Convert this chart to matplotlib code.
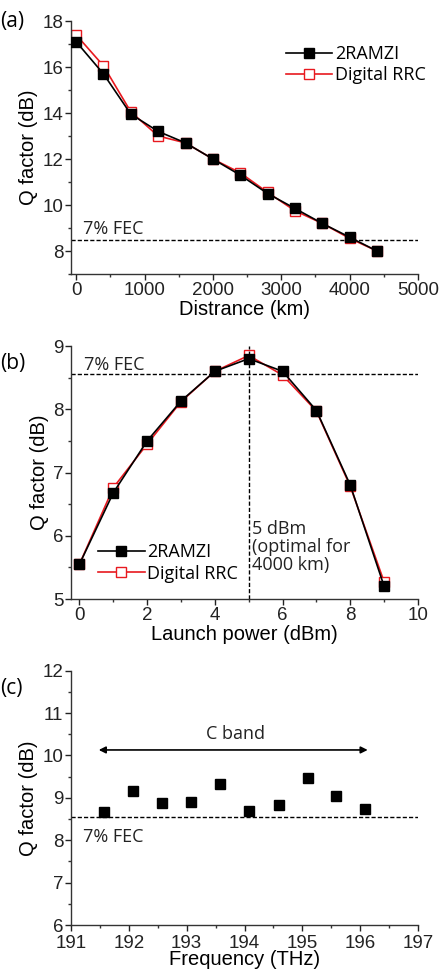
import matplotlib
matplotlib.use("Agg")
import matplotlib.pyplot as plt
from matplotlib.ticker import MultipleLocator

plt.rcParams['font.family'] = ['Liberation Sans', 'DejaVu Sans']

# Panel (a)
dist_km = [0, 400, 800, 1200, 1600, 2000, 2400, 2800, 3200, 3600, 4000, 4400]
q_a_2ramzi = [17.1, 15.7, 13.95, 13.2, 12.7, 12.0, 11.3, 10.5, 9.85, 9.2, 8.6, 8.0]
q_a_rrc = [17.4, 16.05, 14.05, 13.0, 12.7, 12.0, 11.4, 10.55, 9.75, 9.2, 8.55, 8.0]
fec_a = 8.48

# Panel (b)
launch_dbm = [0, 1, 2, 3, 4, 5, 6, 7, 8, 9]
q_b_2ramzi = [5.55, 6.68, 7.5, 8.13, 8.6, 8.8, 8.6, 7.98, 6.8, 5.2]
q_b_rrc = [5.55, 6.76, 7.45, 8.12, 8.6, 8.85, 8.54, 7.97, 6.78, 5.27]
fec_b = 8.55
optimal_dbm = 5

# Panel (c)
freq_thz = [191.57, 192.08, 192.57, 193.08, 193.57, 194.08, 194.59, 195.09, 195.58, 196.08]
q_c = [8.67, 9.15, 8.87, 8.91, 9.32, 8.69, 8.83, 9.48, 9.04, 8.74]
fec_c = 8.55
cband = (191.48, 196.13)

W, H = 443, 974
fig = plt.figure(figsize=(W / 100, H / 100), dpi=100)

ann_font = ['Open Sans', 'DejaVu Sans']
TFS = 13.5
LFS = 14.5
AFS = 13


def make_ax(top_px, bot_px, left_px=71, right_px=418):
    return fig.add_axes([left_px / W, 1 - bot_px / H, (right_px - left_px) / W, (bot_px - top_px) / H])


def style(ax):
    for s in ['top', 'right']:
        ax.spines[s].set_visible(False)
    for s in ['left', 'bottom']:
        ax.spines[s].set_linewidth(1.0)
        ax.spines[s].set_color('#333333')
    ax.tick_params(which='major', direction='out', length=4, width=1, labelsize=TFS, colors='#222222', pad=1.5)
    ax.tick_params(which='minor', direction='out', length=2.5, width=1, colors='#333333')


ms = 6.5
# ---------- (a)
ax = make_ax(21, 274)
style(ax)
ax.plot(dist_km, q_a_2ramzi, '-s', color='black', mfc='black', mec='black', ms=ms, lw=1.2, label='2RAMZI', zorder=3)
ax.plot(dist_km, q_a_rrc, '-s', color='#e8191f', mfc='white', mec='#e8191f', ms=ms, lw=1.2, label='Digital RRC', zorder=2)
ax.axhline(fec_a, color='black', ls=(0, (3, 1.5)), lw=1.0)
ax.text(100, fec_a + 0.25, '7% FEC', family=ann_font, fontsize=AFS, color='#222222')
ax.set_xlim(-75, 5000)
ax.set_ylim(7, 18)
ax.xaxis.set_major_locator(MultipleLocator(1000))
ax.xaxis.set_minor_locator(MultipleLocator(500))
ax.yaxis.set_major_locator(MultipleLocator(2))
ax.yaxis.set_minor_locator(MultipleLocator(1))
ax.set_xlabel('Distrance (km)', fontsize=LFS, labelpad=1)
ax.set_ylabel('Q factor (dB)', fontsize=LFS, labelpad=3)
ax.legend(loc='upper right', bbox_to_anchor=(1.07, 0.97), frameon=False, handlelength=2.6,
          handletextpad=0.15, labelspacing=0.2, prop={'family': ann_font, 'size': AFS})
ax.text(-0.205, 1.0, '(a)', transform=ax.transAxes, family=ann_font, fontsize=15, va='center', ha='left')

# ---------- (b)
ax = make_ax(346, 599)
style(ax)
ax.plot(launch_dbm, q_b_2ramzi, '-s', color='black', mfc='black', mec='black', ms=ms, lw=1.2, label='2RAMZI', zorder=3)
ax.plot(launch_dbm, q_b_rrc, '-s', color='#e8191f', mfc='white', mec='#e8191f', ms=ms, lw=1.2, label='Digital RRC', zorder=2)
ax.axhline(fec_b, color='black', ls=(0, (3, 1.5)), lw=1.0)
ax.axvline(optimal_dbm, color='black', ls=(0, (3, 1.5)), lw=1.0)
ax.text(0.12, fec_b + 0.07, '7% FEC', family=ann_font, fontsize=AFS, color='#222222')
ax.text(optimal_dbm + 0.1, 6.25, '5 dBm\n(optimal for\n4000 km)', family=ann_font, fontsize=AFS,
        color='#222222', va='top', linespacing=1.0)
ax.set_xlim(-0.25, 10)
ax.set_ylim(5, 9)
ax.xaxis.set_major_locator(MultipleLocator(2))
ax.xaxis.set_minor_locator(MultipleLocator(1))
ax.yaxis.set_major_locator(MultipleLocator(1))
ax.yaxis.set_minor_locator(MultipleLocator(0.5))
ax.set_xlabel('Launch power (dBm)', fontsize=LFS, labelpad=1)
ax.set_ylabel('Q factor (dB)', fontsize=LFS, labelpad=3)
ax.legend(loc='lower left', bbox_to_anchor=(0.03, 0.0), frameon=False, handlelength=2.6,
          handletextpad=0.15, labelspacing=0.2, prop={'family': ann_font, 'size': AFS})
ax.text(-0.205, 0.93, '(b)', transform=ax.transAxes, family=ann_font, fontsize=15, va='center', ha='left')

# ---------- (c)
ax = make_ax(670.7, 925)
style(ax)
ax.tick_params(axis='x', which='major', pad=3)
ax.plot(freq_thz, q_c, 's', color='black', ms=ms, zorder=3)
ax.axhline(fec_c, color='black', ls=(0, (3, 1.5)), lw=1.0)
ax.text(191.2, fec_c - 0.6, '7% FEC', family=ann_font, fontsize=AFS, color='#222222')
ax.annotate('', xy=(cband[0], 10.13), xytext=(cband[1], 10.13),
            arrowprops=dict(arrowstyle='<|-|>', color='black', lw=1.2, mutation_scale=10, shrinkA=0, shrinkB=0))
ax.text(193.85, 10.3, 'C band', family=ann_font, fontsize=AFS, ha='center', va='bottom', color='#222222')
ax.set_xlim(191, 197)
ax.set_ylim(6, 12)
ax.xaxis.set_major_locator(MultipleLocator(1))
ax.xaxis.set_minor_locator(MultipleLocator(0.5))
ax.yaxis.set_major_locator(MultipleLocator(1))
ax.yaxis.set_minor_locator(MultipleLocator(0.5))
ax.set_xlabel('Frequency (THz)', fontsize=LFS, labelpad=-1)
ax.set_ylabel('Q factor (dB)', fontsize=LFS, labelpad=3)
ax.text(-0.205, 0.93, '(c)', transform=ax.transAxes, family=ann_font, fontsize=15, va='center', ha='left')

fig.savefig('out.png', dpi=100)
